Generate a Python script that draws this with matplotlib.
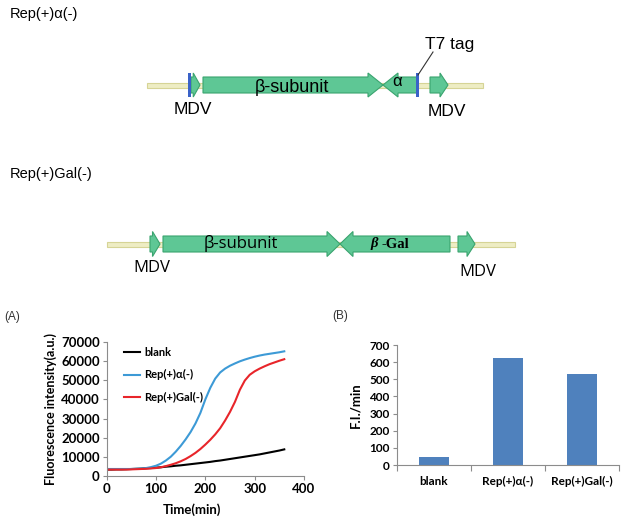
import matplotlib
matplotlib.use("Agg")
import matplotlib.pyplot as plt
from matplotlib.patches import Polygon, Rectangle

# ---------------- data ----------------
time_min = [0, 10, 20, 30, 40, 50, 60, 70, 80, 90, 100, 110, 120, 130, 140, 150, 160, 170, 180,
            190, 200, 210, 220, 230, 240, 250, 260, 270, 280, 290, 300, 310, 320, 330, 340, 350, 360]
blank_fi = [3500, 3500, 3600, 3600, 3700, 3800, 3900, 4000, 4200, 4300, 4500, 4700, 5000, 5200, 5500,
            5700, 6000, 6300, 6600, 6900, 7200, 7500, 7900, 8200, 8600, 9000, 9400, 9800, 10200, 10600,
            11000, 11400, 11900, 12400, 12900, 13400, 14000]
rep_alpha_fi = [3800, 3800, 3800, 3800, 3800, 3800, 3900, 4000, 4300, 4800, 5500, 6600, 8200, 10200,
                12800, 15800, 19200, 23000, 27500, 33000, 40000, 46000, 50800, 54000, 56000, 57500,
                58700, 59800, 60700, 61500, 62200, 62800, 63300, 63700, 64100, 64500, 65000]
rep_gal_fi = [3500, 3500, 3500, 3500, 3500, 3600, 3700, 3800, 3900, 4100, 4300, 4700, 5300, 6000, 6800,
              7800, 9000, 10500, 12200, 14200, 16500, 19000, 21800, 25000, 29000, 33500, 38700, 45000,
              49800, 52800, 54600, 56000, 57200, 58300, 59200, 60100, 60900]
series_names = ["blank", "Rep(+)\u03b1(-)", "Rep(+)Gal(-)"]

bar_categories = ["blank", "Rep(+)\u03b1(-)", "Rep(+)Gal(-)"]
bar_values = [47, 622, 529]

xticksA = [0, 100, 200, 300, 400]
yticksA = [0, 10000, 20000, 30000, 40000, 50000, 60000, 70000]
yticksB = [0, 100, 200, 300, 400, 500, 600, 700]

# gene maps: (label, start, end, direction)  in map units (pixels of the panel)
map1_features = [("MDV", 191, 200, 1), ("\u03b2-subunit", 203, 383, 1), ("\u03b1", 383, 417, -1), ("MDV", 430, 448, 1)]
map1_backbone = (147, 483)
map1_tags = [189, 417]
map2_features = [("MDV", 150, 160, 1), ("\u03b2-subunit", 163, 340, 1), ("\u03b2 -Gal", 340, 450, -1), ("MDV", 458, 475, 1)]
map2_backbone = (107, 515)

# ---------------- figure ----------------
fig = plt.figure(figsize=(6.26, 5.26), dpi=100)
bg = fig.add_axes([0, 0, 1, 1], zorder=0)
bg.set_xlim(0, 626)
bg.set_ylim(526, 0)
bg.axis("off")

GREEN = "#5ec795"
GREEN_EDGE = "#3aa46f"
BB_FACE = "#eeedc4"
BB_EDGE = "#d6d496"
TAG = "#3a62c8"
SANS = ["Liberation Sans", "DejaVu Sans"]


def gene_arrow(ax, x0, x1, y, direction, body=8, head=12, head_len=15):
    length = x1 - x0
    hl = min(head_len, length * 0.75)
    if direction > 0:
        pts = [(x0, y - body), (x1 - hl, y - body), (x1 - hl, y - head), (x1, y),
               (x1 - hl, y + head), (x1 - hl, y + body), (x0, y + body)]
    else:
        pts = [(x1, y - body), (x0 + hl, y - body), (x0 + hl, y - head), (x0, y),
               (x0 + hl, y + head), (x0 + hl, y + body), (x1, y + body)]
    ax.add_patch(Polygon(pts, closed=True, facecolor=GREEN, edgecolor=GREEN_EDGE, lw=0.8, zorder=3))


def backbone(ax, x0, x1, y):
    ax.add_patch(Rectangle((x0, y - 2.5), x1 - x0, 5, facecolor=BB_FACE, edgecolor=BB_EDGE, lw=0.8, zorder=2))


# map 1
y1 = 85
bg.text(10, 14, "Rep(+)\u03b1(-)", fontsize=10.5, family=SANS, va="center", ha="left")
backbone(bg, *map1_backbone, y1)
for lab, s, e, d in map1_features:
    gene_arrow(bg, s, e, y1, d, body=8, head=12, head_len=15 if e - s > 20 else 8)
for tx in map1_tags:
    bg.add_patch(Rectangle((tx - 1.5, y1 - 12), 3, 24, facecolor=TAG, edgecolor="none", zorder=4))
bg.text(292, 87, map1_features[1][0], fontsize=13, family=SANS, ha="center", va="center", zorder=5)
bg.text(397, 82, map1_features[2][0], fontsize=12, family=SANS, ha="center", va="center", zorder=5)
bg.text(193, 110, "MDV", fontsize=12.5, family=SANS, ha="center", va="center")
bg.text(447, 112, "MDV", fontsize=12.5, family=SANS, ha="center", va="center")
bg.plot([418, 433], [75, 52], color="#333333", lw=0.8, zorder=5)
bg.text(450, 45, "T7 tag", fontsize=12.5, family=SANS, ha="center", va="center")

# map 2
y2 = 244
bg.text(10, 174, "Rep(+)Gal(-)", fontsize=10.5, family=SANS, va="center", ha="left")
backbone(bg, *map2_backbone, y2)
for lab, s, e, d in map2_features:
    gene_arrow(bg, s, e, y2, d, body=8, head=12.5, head_len=13 if e - s > 20 else 8)
bg.text(241, 244, map2_features[1][0], fontsize=12, family=["Open Sans", "DejaVu Sans"], ha="center", va="center", zorder=5)
gal_beta, gal_rest = map2_features[2][0].split(" ")
bg.text(378, 244, gal_beta, fontsize=10.5, family=["Liberation Serif", "DejaVu Serif"],
        fontweight="bold", style="italic", ha="right", va="center", zorder=5)
bg.text(382, 244, gal_rest, fontsize=10.5, family=["Liberation Serif", "DejaVu Serif"],
        fontweight="bold", ha="left", va="center", zorder=5)
bg.text(152, 268, "MDV", fontsize=12, family=["Open Sans", "DejaVu Sans"], ha="center", va="center")
bg.text(478, 272, "MDV", fontsize=12, family=["Open Sans", "DejaVu Sans"], ha="center", va="center")

# panel letters
bg.text(12, 317, "(A)", fontsize=8.5, family=SANS, ha="center", va="center", color="#333333")
bg.text(340, 316, "(B)", fontsize=8.5, family=SANS, ha="center", va="center", color="#333333")

BOLD = ["Lato", "DejaVu Sans"]
AXC = "#8c8c8c"

# ---------------- panel A ----------------
axA = fig.add_axes([106.7 / 626, 49.7 / 526, 197.3 / 626, 134.6 / 526], zorder=2)
axA.plot(time_min, blank_fi, color="black", lw=1.5, label=series_names[0])
axA.plot(time_min, rep_alpha_fi, color="#3d9ad6", lw=1.5, label=series_names[1])
axA.plot(time_min, rep_gal_fi, color="#e8252a", lw=1.5, label=series_names[2])
axA.set_xlim(0, 400)
axA.set_ylim(0, 70000)
axA.set_xticks(xticksA)
axA.set_yticks(yticksA)
for sp in ["top", "right"]:
    axA.spines[sp].set_visible(False)
for sp in ["left", "bottom"]:
    axA.spines[sp].set_color(AXC)
    axA.spines[sp].set_linewidth(0.8)
axA.tick_params(direction="out", length=3, width=0.8, color=AXC, labelsize=9.5, pad=2)
for t in axA.get_xticklabels() + axA.get_yticklabels():
    t.set_fontweight("bold")
    t.set_family(BOLD)
axA.set_xlabel("Time(min)", fontsize=9.5, fontweight="bold", family=BOLD, labelpad=3)
axA.xaxis.set_label_coords(0.43, -0.2)
axA.set_ylabel("Fluorescence intensity(a.u.)", fontsize=9, fontweight="bold", family=BOLD, labelpad=3)
leg = axA.legend(loc="upper left", bbox_to_anchor=(0.05, 1.02), frameon=False,
                 prop={"family": BOLD, "weight": "bold", "size": 8},
                 handlelength=1.4, handletextpad=0.4, labelspacing=1.05, borderpad=0.2)

# ---------------- panel B ----------------
axB = fig.add_axes([396.7 / 626, 61 / 526, 222.3 / 626, 120 / 526], zorder=2)
xpos = list(range(len(bar_categories)))
axB.bar(xpos, bar_values, width=0.4, color="#4f81bd")
axB.set_xlim(-0.5, len(bar_categories) - 0.5)
axB.set_ylim(0, 700)
axB.set_yticks(yticksB)
axB.set_xticks(xpos)
axB.set_xticklabels(bar_categories)
axB.set_xticks([i - 0.5 for i in range(len(bar_categories) + 1)], minor=True)
for sp in ["top", "right"]:
    axB.spines[sp].set_visible(False)
for sp in ["left", "bottom"]:
    axB.spines[sp].set_color(AXC)
    axB.spines[sp].set_linewidth(0.8)
axB.tick_params(axis="x", which="major", length=0, pad=8)
axB.tick_params(axis="x", which="minor", length=4, width=0.8, color=AXC, direction="out")
axB.tick_params(axis="y", length=3, width=0.8, color=AXC, direction="out", pad=2)
axB.tick_params(labelsize=8.5)
for t in axB.get_xticklabels() + axB.get_yticklabels():
    t.set_fontweight("bold")
    t.set_family(BOLD)
axB.set_ylabel("F.I./min", fontsize=9.5, fontweight="bold", family=BOLD, labelpad=6)

fig.savefig("out.png", dpi=100)
